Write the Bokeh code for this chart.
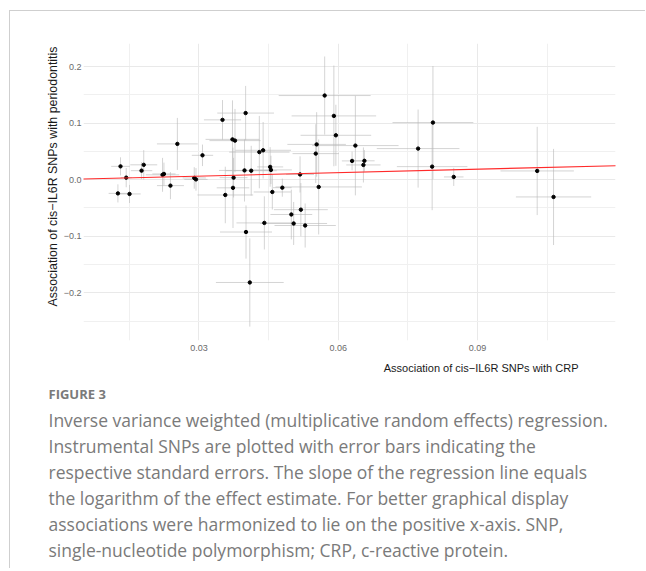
from bokeh.plotting import figure
from bokeh.models import ColumnDataSource, FixedTicker, Range1d, Slope, Title
from bokeh.embed import file_html
from bokeh.resources import INLINE

# SNP associations
bx = [0.01312, 0.01256, 0.01506, 0.01435, 0.01765, 0.01812, 0.02217, 0.02247, 0.02387, 0.02536,
      0.02900, 0.02937, 0.03077, 0.03508, 0.04006, 0.03723, 0.03777, 0.04301, 0.04383, 0.03982,
      0.04126, 0.03747, 0.03734, 0.03568, 0.04014, 0.04096, 0.04409, 0.04534, 0.04551, 0.04581,
      0.04796, 0.05178, 0.04990, 0.05040, 0.05195, 0.05288, 0.05579, 0.05516, 0.05535, 0.05708,
      0.05906, 0.05949, 0.06369, 0.06298, 0.06563, 0.06542, 0.07720, 0.08039, 0.08022, 0.08487,
      0.10284, 0.10636]
by = [0.0235, -0.0243, -0.0253, 0.0035, 0.0159, 0.0262, 0.0085, 0.0101, -0.0106, 0.0632,
      0.0030, 0.0004, 0.0430, 0.1057, 0.1177, 0.0712, 0.0690, 0.0487, 0.0519, 0.0163,
      0.0158, 0.0035, -0.0145, -0.0271, -0.0926, -0.1818, -0.0765, 0.0225, 0.0172, -0.0218,
      -0.0142, 0.0092, -0.0616, -0.0775, -0.0531, -0.0811, -0.0129, 0.0460, 0.0623, 0.1487,
      0.1127, 0.0784, 0.0602, 0.0331, 0.0333, 0.0260, 0.0549, 0.1009, 0.0230, 0.0048,
      0.0154, -0.0306]
se_x = [0.0020, 0.0020, 0.0024, 0.0012, 0.0023, 0.0029, 0.0036, 0.0025, 0.0029, 0.0044,
        0.0025, 0.0025, 0.0023, 0.0040, 0.0061, 0.0058, 0.0055, 0.0065, 0.0060, 0.0055,
        0.0055, 0.0030, 0.0035, 0.0060, 0.0056, 0.0073, 0.0060, 0.0028, 0.0045, 0.0040,
        0.0020, 0.0030, 0.0045, 0.0072, 0.0058, 0.0066, 0.0093, 0.0050, 0.0063, 0.0099,
        0.0091, 0.0076, 0.0093, 0.0022, 0.0022, 0.0037, 0.0089, 0.0087, 0.0076, 0.0021,
        0.0079, 0.0081]
se_y = [0.016, 0.016, 0.016, 0.017, 0.015, 0.026, 0.030, 0.020, 0.024, 0.046,
        0.019, 0.020, 0.019, 0.035, 0.048, 0.069, 0.056, 0.064, 0.050, 0.055,
        0.044, 0.035, 0.071, 0.050, 0.047, 0.078, 0.047, 0.035, 0.025, 0.031,
        0.016, 0.032, 0.044, 0.038, 0.047, 0.039, 0.084, 0.052, 0.057, 0.069,
        0.089, 0.054, 0.088, 0.0165, 0.019, 0.031, 0.069, 0.100, 0.077, 0.016,
        0.078, 0.085]
ivw_slope = 0.206

x_ticks = [0.03, 0.06, 0.09]
x_minor = [0.015, 0.045, 0.075, 0.105]
y_ticks = [-0.2, -0.1, 0.0, 0.1, 0.2]
y_labels = ["\u22120.2", "\u22120.1", "0.0", "0.1", "0.2"]
y_minor = [-0.25, -0.15, -0.05, 0.05, 0.15]

x_title = "Association of cis\u2212IL6R SNPs with CRP"
y_title = "Association of cis\u2212IL6R SNPs with periodontitis"
fig_label = "FIGURE 3"
caption = [
    "Inverse variance weighted (multiplicative random effects) regression.",
    "Instrumental SNPs are plotted with error bars indicating the",
    "respective standard errors. The slope of the regression line equals",
    "the logarithm of the effect estimate. For better graphical display",
    "associations were harmonized to lie on the positive x-axis. SNP,",
    "single-nucleotide polymorphism; CRP, c-reactive protein.",
]

src = ColumnDataSource(dict(
    x=bx, y=by,
    x0=[a - s for a, s in zip(bx, se_x)], x1=[a + s for a, s in zip(bx, se_x)],
    y0=[a - s for a, s in zip(by, se_y)], y1=[a + s for a, s in zip(by, se_y)],
))

p = figure(width=635, height=557, output_backend="svg", toolbar_location=None,
           x_range=Range1d(0.00515, 0.1197), y_range=Range1d(-0.2844, 0.2407),
           min_border_left=73, min_border_right=30, min_border_top=32, min_border_bottom=228,
           frame_width=532, frame_height=297,
           styles={"border-top": "1px solid #cfcfcf", "border-left": "1px solid #cfcfcf",
                   "margin-top": "10px", "margin-left": "9px"})
p.outline_line_color = None
p.background_fill_color = "white"
p.border_fill_color = "white"

p.xaxis.ticker = FixedTicker(ticks=x_ticks, minor_ticks=x_minor)
p.yaxis.ticker = FixedTicker(ticks=y_ticks, minor_ticks=y_minor)
p.yaxis.major_label_overrides = {t: l for t, l in zip(y_ticks, y_labels)}
p.xaxis.major_label_overrides = {t: f"{t:.2f}" for t in x_ticks}
for ax in (p.xaxis, p.yaxis):
    ax.axis_line_color = None
    ax.major_tick_line_color = None
    ax.minor_tick_line_color = None
    ax.major_tick_out = 0
    ax.major_tick_in = 0
    ax.minor_tick_out = 0
    ax.minor_tick_in = 0
    ax.major_label_text_font = "Liberation Sans"
    ax.major_label_text_font_size = "9px"
    ax.major_label_text_color = "#6a6a6a"
p.xaxis.major_label_standoff = 4
p.yaxis.major_label_standoff = 2

yax = p.yaxis[0]
# no-break spaces lift the centred title towards the top, as in the reference
yax.axis_label = "\u00a0" * 9 + y_title
yax.axis_label_text_font = "Liberation Sans"
yax.axis_label_text_font_size = "12.4px"
yax.axis_label_text_font_style = "normal"
yax.axis_label_text_color = "#1a1a1a"
yax.axis_label_standoff = 1

for g in (p.xgrid, p.ygrid):
    g.grid_line_color = "#e9e9e9"
    g.grid_line_width = 1
    g.minor_grid_line_color = "#f0f0f0"
    g.minor_grid_line_width = 1

p.segment("x0", "y", "x1", "y", source=src, line_color="#b8b8b8", line_alpha=0.6, line_width=1)
p.segment("x", "y0", "x", "y1", source=src, line_color="#b8b8b8", line_alpha=0.6, line_width=1)
p.add_layout(Slope(gradient=ivw_slope, y_intercept=0, line_color="#ff2a2a", line_width=1.1))
p.scatter("x", "y", source=src, size=3.4, color="black")

p.add_layout(Title(text=x_title, align="right", offset=37, standoff=12,
                   text_font="Liberation Sans", text_font_size="11px",
                   text_font_style="normal", text_color="#1a1a1a"), "below")
p.add_layout(Title(text=fig_label, align="left", offset=-35, standoff=6,
                   text_font="Open Sans", text_font_size="13px",
                   text_font_style="bold", text_color="#7a7a7a"), "below")
for i, line in enumerate(caption):
    p.add_layout(Title(text=line, align="left", offset=-35, standoff=0,
                       text_font="Open Sans", text_font_size="17.5px",
                       text_font_style="normal", text_color="#7a7a7a"), "below")

open("out.html", "w").write(file_html(p, INLINE))
